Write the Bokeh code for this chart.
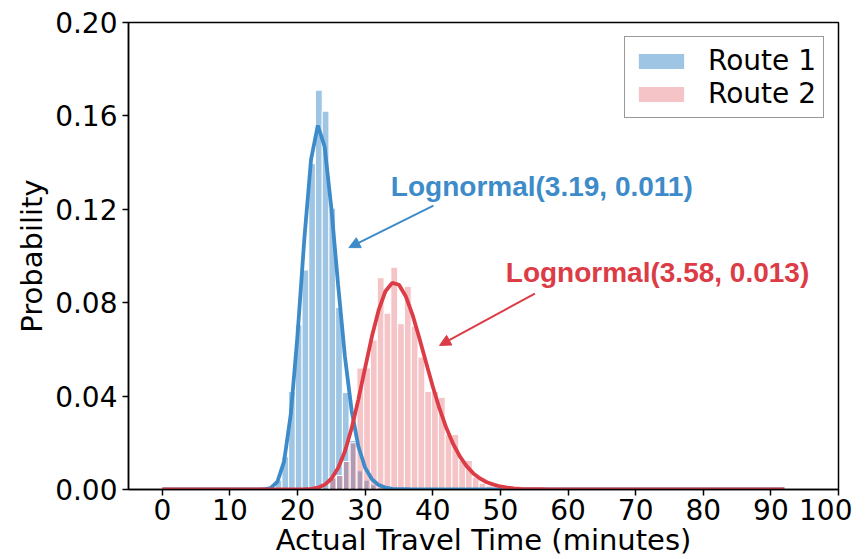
from bokeh.plotting import figure
from bokeh.models import Range1d, FixedTicker, PrintfTickFormatter, Arrow, NormalHead, Label
from bokeh.embed import file_html
from bokeh.resources import INLINE

# ---------------- data ----------------
x_ticks = [0, 10, 20, 30, 40, 50, 60, 70, 80, 90, 100]
y_ticks = [0.00, 0.04, 0.08, 0.12, 0.16, 0.20]

route1_edges = [16.70, 17.69, 18.68, 19.67, 20.67, 21.66, 22.65, 23.65, 24.64,
                25.63, 26.63, 27.62, 28.61, 29.61, 30.60, 31.60]
route1_heights = [0.004, 0.014, 0.042, 0.0705, 0.094, 0.1395, 0.171, 0.162,
                  0.1205, 0.078, 0.0415, 0.021, 0.008, 0.004, 0.002]

route2_edges = [24.76, 25.76, 26.77, 27.77, 28.78, 29.78, 30.78, 31.79, 32.79,
                33.80, 34.80, 35.80, 36.81, 37.81, 38.82, 39.82, 40.83, 41.83,
                42.83, 43.84, 44.84, 45.85, 46.85, 47.85, 48.86, 49.86]
route2_heights = [0.005, 0.006, 0.012, 0.020, 0.052, 0.052, 0.064, 0.0907,
                  0.0755, 0.0952, 0.071, 0.087, 0.070, 0.0567, 0.042, 0.042,
                  0.0395, 0.0236, 0.0236, 0.0124, 0.0124, 0.0053, 0.0027,
                  0.0015, 0.001]

curve_x = list(range(0, 93))
route1_curve = ([0.0] * 14 +
                [0.0000, 0.0001, 0.0006, 0.0032, 0.0119, 0.0322, 0.0662, 0.1072,
                 0.1414, 0.1559, 0.1469, 0.1205, 0.0876, 0.0571, 0.0338, 0.0184,
                 0.0093, 0.0044, 0.0019, 0.0008, 0.0003, 0.0001, 0.0001] +
                [0.0] * 56)
route2_curve = ([0.0] * 20 +
                [0.0000, 0.0001, 0.0003, 0.0008, 0.0020, 0.0046, 0.0092, 0.0163,
                 0.0262, 0.0386, 0.0522, 0.0656, 0.0769, 0.0849, 0.0885, 0.0877,
                 0.0828, 0.0749, 0.0650, 0.0545, 0.0441, 0.0346, 0.0264, 0.0196,
                 0.0142, 0.0100, 0.0069, 0.0047, 0.0031, 0.0021, 0.0013, 0.0008,
                 0.0005, 0.0003, 0.0002, 0.0001, 0.0001] +
                [0.0] * 36)

# ---------------- styles ----------------
BLUE = "#3d8bc9"
RED = "#dc3c46"
FONT = "DejaVu Sans"

p = figure(width=852, height=559, output_backend="svg", toolbar_location=None,
           x_range=Range1d(-5, 100), y_range=Range1d(0, 0.2),
           min_border_left=128, min_border_right=14, min_border_top=22,
           min_border_bottom=70)

p.quad(left=route1_edges[:-1], right=route1_edges[1:], top=route1_heights, bottom=0,
       fill_color=BLUE, fill_alpha=0.5, line_color="white", line_width=1,
       legend_label="Route 1")
p.quad(left=route2_edges[:-1], right=route2_edges[1:], top=route2_heights, bottom=0,
       fill_color=RED, fill_alpha=0.3, line_color="white", line_width=1,
       legend_label="Route 2")
p.line(curve_x, route1_curve, line_color=BLUE, line_width=3.8)
p.line(curve_x, route2_curve, line_color=RED, line_width=3.8)

# annotations
p.add_layout(Label(x=33.8, y=0.1298, text="Lognormal(3.19, 0.011)",
                   text_color=BLUE, text_font="Liberation Sans",
                   text_font_style="bold", text_font_size="28px",
                   text_baseline="middle"))
p.add_layout(Label(x=50.8, y=0.0929, text="Lognormal(3.58, 0.013)",
                   text_color=RED, text_font="Liberation Sans",
                   text_font_style="bold", text_font_size="28px",
                   text_baseline="middle"))
p.add_layout(Arrow(x_start=40.1, y_start=0.1216, x_end=27.6, y_end=0.1036,
                   line_color=BLUE, line_width=2,
                   end=NormalHead(size=11, fill_color=BLUE, line_color=BLUE)))
p.add_layout(Arrow(x_start=55.1, y_start=0.0839, x_end=41.0, y_end=0.0617,
                   line_color=RED, line_width=2,
                   end=NormalHead(size=11, fill_color=RED, line_color=RED)))

# axes
p.grid.visible = False
p.outline_line_color = "black"
p.outline_line_width = 1.5
p.outline_line_alpha = 1

p.xaxis.ticker = FixedTicker(ticks=x_ticks)
p.yaxis.ticker = FixedTicker(ticks=y_ticks)
p.yaxis.formatter = PrintfTickFormatter(format="%.2f")
p.xaxis.axis_label = "Actual Travel Time (minutes)"
p.yaxis.axis_label = "Probability"
for ax in (p.xaxis, p.yaxis):
    ax.axis_line_color = "black"
    ax.axis_line_width = 1.5
    ax.major_tick_line_color = "black"
    ax.major_tick_line_width = 1.5
    ax.major_tick_out = 6
    ax.major_tick_in = 0
    ax.minor_tick_line_color = None
    ax.major_label_text_font = FONT
    ax.major_label_text_font_size = "28px"
    ax.major_label_text_color = "black"
    ax.axis_label_text_font = FONT
    ax.axis_label_text_font_size = "29px"
    ax.axis_label_text_font_style = "normal"
    ax.axis_label_text_color = "black"
p.xaxis.major_label_standoff = 3
p.xaxis.axis_label_standoff = 0
p.yaxis.major_label_standoff = 5
p.yaxis.axis_label_standoff = 3

# legend
lg = p.legend[0]
lg.location = "top_right"
lg.margin = 14
lg.padding = 7
lg.spacing = 0
lg.glyph_width = 58
lg.glyph_height = 20
lg.label_standoff = 18
lg.label_text_font = FONT
lg.label_text_font_size = "28px"
lg.label_text_color = "black"
lg.border_line_color = "#333333"
lg.border_line_width = 1.2
lg.background_fill_alpha = 1

open("out.html", "w").write(file_html(p, INLINE))
